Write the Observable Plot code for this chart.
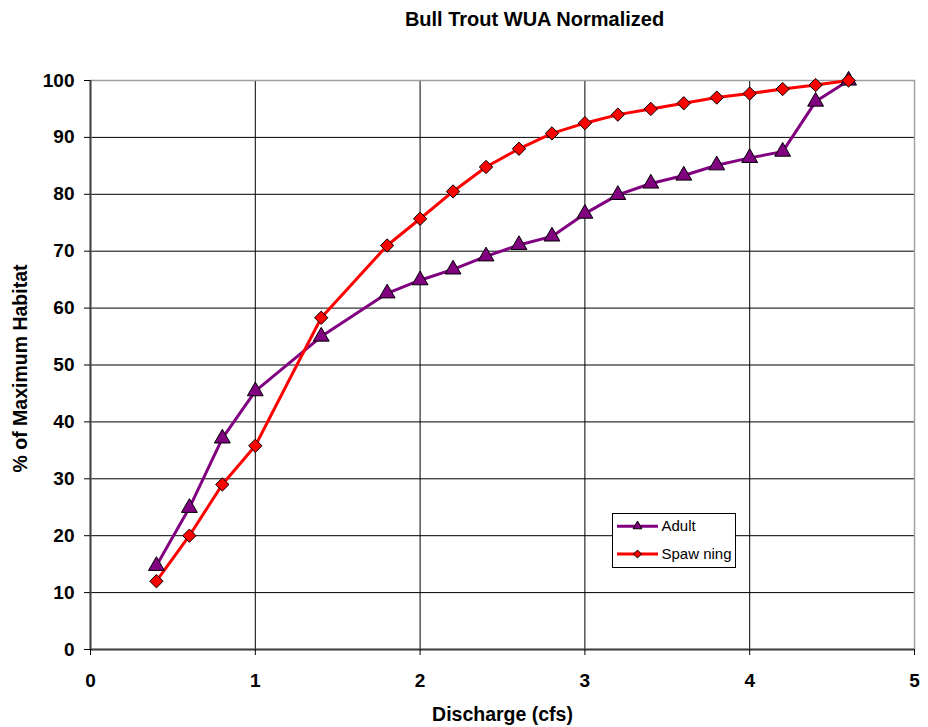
<!DOCTYPE html>
<html>
<head>
<meta charset="utf-8">
<script src="https://cdn.jsdelivr.net/npm/d3@7"></script>
<script src="https://cdn.jsdelivr.net/npm/@observablehq/plot@0.6"></script>
<style>
  html, body { margin: 0; padding: 0; background: #fff; }
  #wrap { position: relative; width: 928px; height: 727px; }
  #legend { position: absolute; left: 612px; top: 513px; width: 122px; height: 53px;
            border: 1px solid #000; background: #fff; }
</style>
</head>
<body>
<div id="wrap"><div id="legend"></div></div>
<script>
const discharge = [0.4, 0.6, 0.8, 1.0, 1.4, 1.8, 2.0, 2.2, 2.4, 2.6, 2.8, 3.0, 3.2, 3.4, 3.6, 3.8, 4.0, 4.2, 4.4, 4.6];
const adult     = [14.7, 24.9, 37.1, 45.4, 55.0, 62.6, 64.9, 66.8, 69.1, 71.1, 72.6, 76.6, 79.9, 81.9, 83.3, 85.1, 86.4, 87.5, 96.3, 100];
const spawning  = [12.0, 20.0, 29.0, 35.8, 58.3, 71.0, 75.7, 80.5, 84.8, 88.0, 90.7, 92.5, 94.0, 95.0, 96.0, 97.0, 97.7, 98.5, 99.2, 100];
const seriesNames = ["Adult", "Spaw ning"];
const xTicks = [0, 1, 2, 3, 4, 5];
const yTicks = [0, 10, 20, 30, 40, 50, 60, 70, 80, 90, 100];
const titleText = "Bull Trout WUA Normalized";
const xLabel = "Discharge (cfs)";
const yLabel = "% of Maximum Habitat";

const adultData = discharge.map((d, i) => ({x: d, y: adult[i]}));
const spawnData = discharge.map((d, i) => ({x: d, y: spawning[i]}));

const font = "'Liberation Sans', Arial, Helvetica, sans-serif";

const chart = Plot.plot({
  width: 928,
  height: 727,
  marginLeft: 90,
  marginRight: 14,
  marginTop: 80,
  marginBottom: 78,
  style: {fontFamily: font, background: "#fff", color: "#000"},
  x: {domain: [0, 5]},
  y: {domain: [0, 100]},
  marks: [
    Plot.gridY(yTicks.filter(d => d > 0 && d < 100), {stroke: "#000", strokeOpacity: 1, strokeWidth: 1}),
    Plot.gridX(xTicks.filter(d => d > 0 && d < 5), {stroke: "#000", strokeOpacity: 1, strokeWidth: 1}),
    Plot.frame({stroke: "#a0a0a0", strokeWidth: 1.5}),
    Plot.ruleX([0], {stroke: "#444", strokeWidth: 2}),
    Plot.ruleY([0], {stroke: "#444", strokeWidth: 2}),
    Plot.axisY(yTicks, {tickSize: 6, tickPadding: 10, fontSize: 19, fontWeight: "bold", label: null, stroke: "#000"}),
    Plot.axisX(xTicks, {tickSize: 6, tickPadding: 18, fontSize: 19, fontWeight: "bold", label: null, stroke: "#000",
      tickFormat: d => String(d)}),
    Plot.line(adultData, {x: "x", y: "y", stroke: "#800080", strokeWidth: 3}),
    Plot.line(spawnData, {x: "x", y: "y", stroke: "#ff0000", strokeWidth: 3}),
    Plot.dot(adultData, {x: "x", y: "y", symbol: "triangle", r: 5.9, fill: "#800080", stroke: "#000", strokeWidth: 1}),
    Plot.dot(spawnData, {x: "x", y: "y", symbol: "diamond2", r: 6.0, fill: "#ff0000", stroke: "#000", strokeWidth: 1}),
    Plot.text([titleText], {frameAnchor: "top-left", dx: 444, dy: -61, textAnchor: "middle", lineAnchor: "middle",
      fontSize: 20, fontWeight: "bold"}),
    Plot.text([xLabel], {frameAnchor: "bottom", dy: 65, textAnchor: "middle", lineAnchor: "middle", fontSize: 19.5, fontWeight: "bold"}),
    Plot.text([yLabel], {frameAnchor: "left", dx: -70, dy: 3.5, rotate: -90, textAnchor: "middle", lineAnchor: "middle",
      fontSize: 19.5, fontWeight: "bold"})
  ]
});

const wrap = document.getElementById("wrap");
wrap.insertBefore(chart, wrap.firstChild);

// legend
const lg = d3.select("#legend").append("svg").attr("width", 122).attr("height", 53)
  .style("font-family", font);
const legendItems = [
  {name: seriesNames[0], color: "#800080", sym: d3.symbolTriangle, size: 34},
  {name: seriesNames[1], color: "#ff0000", sym: d3.symbolDiamond2, size: 40}
];
legendItems.forEach((it, i) => {
  const cy = 12.2 + i * 27.8;
  lg.append("line").attr("x1", 4).attr("x2", 45).attr("y1", cy).attr("y2", cy)
    .attr("stroke", it.color).attr("stroke-width", 3);
  lg.append("path").attr("d", d3.symbol(it.sym, it.size)()).attr("transform", `translate(24.5,${cy})`)
    .attr("fill", it.color).attr("stroke", "#000").attr("stroke-width", 1);
  lg.append("text").attr("x", 48.5).attr("y", cy).attr("dy", "0.35em").attr("font-size", 15)
    .text(it.name);
});
</script>
</body>
</html>
